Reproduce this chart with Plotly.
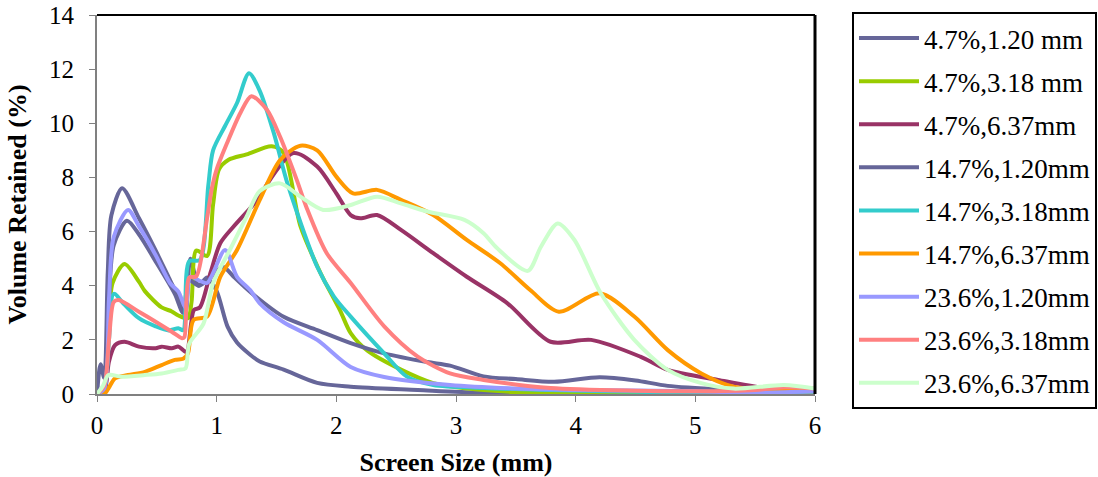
import plotly.graph_objects as go

names = ["4.7%,1.20 mm", "4.7%,3.18 mm", "4.7%,6.37mm",
         "14.7%,1.20mm", "14.7%,3.18mm", "14.7%,6.37mm",
         "23.6%,1.20mm", "23.6%,3.18mm", "23.6%,6.37mm"]
colors = ["#666699", "#99CC00", "#993366",
          "#666699", "#33CCCC", "#FF9900",
          "#9999FF", "#FF8080", "#CCFFCC"]

x_47_120 = [0, 0.03, 0.06, 0.09, 0.12, 0.21, 0.35, 0.49, 0.6, 0.71, 0.74, 0.78, 0.85, 0.92, 1.0, 1.09, 1.17, 1.28, 1.36, 1.56, 1.84, 2.12, 2.68, 3.2, 4.0, 5.0, 6.0]
y_47_120 = [0, 1.1, 0.6, 4.5, 6.6, 7.6, 6.5, 5.3, 4.3, 3.3, 3.0, 5.0, 4.0, 4.3, 3.8, 2.5, 1.9, 1.45, 1.2, 0.9, 0.41, 0.27, 0.15, 0.05, 0.03, 0.02, 0.02]

x_47_318 = [0, 0.06, 0.1, 0.13, 0.23, 0.35, 0.4, 0.54, 0.625, 0.68, 0.76, 0.79, 0.83, 0.92, 0.97, 1.02, 1.1, 1.25, 1.46, 1.56, 1.7, 1.87, 2.03, 2.12, 2.26, 2.54, 2.81, 3.1, 3.5, 4.0, 5.0, 6.0]
y_47_318 = [0, 0.2, 2.5, 4.1, 4.8, 4.15, 3.8, 3.2, 3.05, 2.9, 2.8, 3.4, 5.3, 5.1, 7.0, 8.3, 8.65, 8.85, 9.15, 8.9, 6.2, 4.45, 3.1, 2.25, 1.6, 0.9, 0.4, 0.2, 0.07, 0.03, 0.02, 0.02]

x_47_637 = [0, 0.06, 0.1, 0.15, 0.23, 0.35, 0.49, 0.54, 0.625, 0.68, 0.72, 0.75, 0.81, 0.86, 0.95, 1.03, 1.14, 1.34, 1.39, 1.64, 1.84, 2.0, 2.12, 2.2, 2.34, 2.54, 2.81, 3.09, 3.43, 3.79, 4.13, 4.54, 4.77, 5.19, 5.6, 6.0]
y_47_637 = [0, 0.1, 1.2, 1.8, 1.93, 1.75, 1.69, 1.75, 1.69, 1.75, 1.62, 1.55, 3.1, 3.2, 4.5, 5.57, 6.18, 7.17, 7.54, 8.9, 8.4, 7.41, 6.61, 6.49, 6.61, 6.06, 5.2, 4.33, 3.35, 1.93, 2.0, 1.38, 0.89, 0.52, 0.2, 0.08]

x_147_120 = [0, 0.06, 0.1, 0.14, 0.25, 0.35, 0.49, 0.65, 0.72, 0.77, 0.85, 0.95, 1.05, 1.15, 1.3, 1.56, 1.84, 2.12, 2.4, 2.76, 2.95, 3.23, 3.5, 3.82, 4.2, 4.5, 4.77, 5.3, 6.0]
y_147_120 = [0, 0.3, 3.5, 5.5, 6.4, 5.9, 4.9, 3.7, 3.0, 4.2, 4.0, 4.3, 4.7, 4.3, 3.7, 2.85, 2.36, 1.88, 1.5, 1.18, 1.05, 0.65, 0.55, 0.45, 0.62, 0.5, 0.3, 0.15, 0.02]

x_147_318 = [0, 0.06, 0.1, 0.14, 0.23, 0.35, 0.49, 0.6, 0.68, 0.72, 0.77, 0.86, 0.93, 0.97, 1.07, 1.17, 1.27, 1.36, 1.48, 1.59, 1.84, 1.98, 2.12, 2.4, 2.59, 2.81, 3.23, 3.79, 4.5, 5.0, 6.0]
y_147_318 = [0, 0.2, 2.0, 3.7, 3.3, 2.8, 2.5, 2.35, 2.43, 2.36, 4.9, 4.95, 7.7, 9.0, 9.9, 10.75, 11.85, 11.2, 9.6, 7.8, 4.7, 3.6, 2.86, 1.5, 0.64, 0.33, 0.22, 0.15, 0.08, 0.05, 0.05]

x_147_637 = [0, 0.06, 0.095, 0.15, 0.26, 0.4, 0.54, 0.65, 0.72, 0.76, 0.806, 0.92, 1.03, 1.17, 1.36, 1.53, 1.7, 1.84, 2.0, 2.14, 2.34, 2.54, 2.81, 3.09, 3.37, 3.62, 3.86, 4.2, 4.49, 4.77, 5.05, 5.32, 5.6, 6.0]
y_147_637 = [0, 0.0, 0.2, 0.58, 0.7, 0.82, 1.07, 1.26, 1.3, 1.5, 2.73, 2.86, 4.33, 5.32, 7.17, 8.64, 9.17, 9.0, 8.03, 7.41, 7.54, 7.17, 6.61, 5.69, 4.83, 3.84, 3.04, 3.72, 2.86, 1.62, 0.76, 0.27, 0.15, 0.1]

x_236_120 = [0, 0.06, 0.1, 0.14, 0.26, 0.35, 0.49, 0.61, 0.68, 0.74, 0.78, 0.85, 0.92, 1.07, 1.17, 1.28, 1.36, 1.56, 1.84, 2.12, 2.4, 2.95, 3.5, 4.0, 5.0, 5.5, 6.0]
y_236_120 = [0, 0.2, 3.5, 5.8, 6.8, 6.2, 5.13, 4.1, 3.78, 3.2, 4.33, 4.2, 4.1, 5.32, 4.33, 3.84, 3.35, 2.65, 2.0, 1.0, 0.63, 0.33, 0.2, 0.15, 0.1, 0.05, 0.1]

x_236_318 = [0, 0.06, 0.1, 0.14, 0.18, 0.35, 0.49, 0.625, 0.71, 0.73, 0.77, 0.83, 0.92, 0.96, 1.0, 1.085, 1.2, 1.29, 1.42, 1.53, 1.67, 1.75, 1.92, 2.12, 2.4, 2.68, 2.95, 3.23, 3.79, 4.5, 5.0, 5.5, 5.75, 6.0]
y_236_318 = [0, 0.3, 2.0, 3.4, 3.47, 3.04, 2.67, 2.3, 2.06, 2.1, 4.3, 4.35, 6.5, 7.6, 8.3, 9.25, 10.4, 11.0, 10.5, 9.5, 7.9, 6.9, 5.2, 4.1, 2.5, 1.38, 0.76, 0.52, 0.22, 0.12, 0.1, 0.15, 0.25, 0.2]

x_236_637 = [0, 0.05, 0.095, 0.2, 0.4, 0.54, 0.68, 0.74, 0.77, 0.89, 0.97, 1.11, 1.25, 1.36, 1.53, 1.7, 1.89, 2.12, 2.34, 2.54, 2.76, 3.07, 3.23, 3.34, 3.6, 3.71, 3.85, 3.99, 4.21, 4.49, 4.77, 5.05, 5.32, 5.74, 6.0]
y_236_637 = [0, 0.3, 0.7, 0.64, 0.7, 0.76, 0.89, 0.95, 1.85, 2.6, 4.1, 5.32, 6.55, 7.5, 7.78, 7.29, 6.8, 6.98, 7.29, 7.04, 6.74, 6.43, 5.94, 5.4, 4.55, 5.44, 6.3, 5.69, 3.72, 2.0, 0.89, 0.4, 0.2, 0.33, 0.2]

xs = [x_47_120, x_47_318, x_47_637, x_147_120, x_147_318, x_147_637, x_236_120, x_236_318, x_236_637]
ys = [y_47_120, y_47_318, y_47_637, y_147_120, y_147_318, y_147_637, y_236_120, y_236_318, y_236_637]

x_ticks = [0, 1, 2, 3, 4, 5, 6]
y_ticks = [0, 2, 4, 6, 8, 10, 12, 14]

FONT = "Liberation Serif, Times New Roman, serif"

W, H = 1098, 477

fig = go.Figure()
for i, (nm, c, xx, yy) in enumerate(zip(names, colors, xs, ys)):
    fig.add_trace(go.Scatter(x=xx, y=yy, name=nm, mode="lines",
                             line=dict(color=c, width=4, shape="spline", smoothing=0.8),
                             legendgroup=f"g{i}"))

fig.update_layout(
    width=W, height=H,
    margin=dict(l=97, r=283, t=15, b=83, autoexpand=False),
    paper_bgcolor="white", plot_bgcolor="white",
    font=dict(family=FONT, size=25, color="black"),
    showlegend=True,
    legend=dict(xref="container", yref="container",
                x=852 / W, y=1 - 12 / H, xanchor="left", yanchor="top",
                bordercolor="black", borderwidth=2, maxheight=1,
                itemwidth=60, entrywidth=162, entrywidthmode="pixels",
                font=dict(family=FONT, size=27, color="black"),
                tracegroupgap=5, bgcolor="white"),
    xaxis=dict(range=[0, 6], tickvals=x_ticks, ticks="outside", ticklen=6,
               tickcolor="#808080", showline=True, linecolor="#808080", linewidth=2,
               showgrid=False, zeroline=False, automargin=False, ticklabelstandoff=2,
               ticklabeloverflow="allow",
               title=dict(text="<b>Screen Size (mm)</b>", font=dict(family=FONT, size=26), standoff=15)),
    yaxis=dict(range=[0, 14], tickvals=y_ticks, ticks="outside", ticklen=6,
               tickcolor="#808080", showline=True, linecolor="#808080", linewidth=2,
               showgrid=False, zeroline=False, automargin=False, ticklabelstandoff=10,
               ticklabeloverflow="allow",
               title=dict(text="<b>Volume Retained (%)</b>", font=dict(family=FONT, size=26), standoff=15)),
    shapes=[
        dict(type="line", xref="paper", yref="paper", x0=0, x1=1, y0=1, y1=1,
             line=dict(color="black", width=2)),
        dict(type="line", xref="paper", yref="paper", x0=1, x1=1, y0=0, y1=1,
             line=dict(color="black", width=3)),
    ],
)

fig.write_html("out.html", config={"displayModeBar": False},
               post_script="document.body.style.margin='0';document.body.style.overflow='hidden';")
